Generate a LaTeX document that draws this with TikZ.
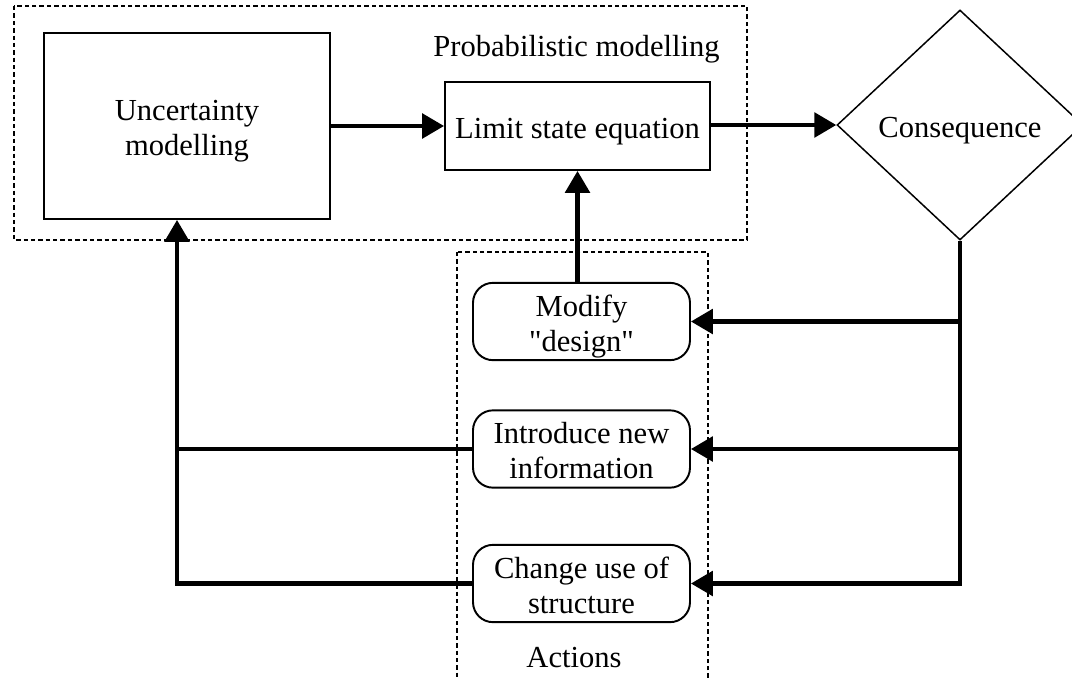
\documentclass[tikz,border=0pt]{standalone}
\usepackage{fontspec}
\setmainfont{Liberation Serif}[Ligatures=TeXOff]
\usepackage{tikz}
\usetikzlibrary{positioning,shapes.geometric,arrows.meta}
\newcommand{\boxtext}[1]{\raisebox{-3pt}[\height][\depth]{\begin{tabular}{@{}c@{}}#1\end{tabular}}}
\tikzstyle{block}=[rectangle, draw=black, line width=1.1pt, text centered, inner sep=2pt,
        font=\fontsize{17.4}{20}\selectfont]
\tikzstyle{action}=[block, rounded corners=0.4cm, minimum width=4.34cm, minimum height=1.5cm]
\tikzstyle{decision}=[diamond, draw=black, line width=0.85pt, inner sep=0pt,
        minimum width=4.92cm, minimum height=4.6cm, font=\fontsize{17.4}{20}\selectfont]
\tikzstyle{label}=[font=\fontsize{17.4}{20}\selectfont]
\tikzstyle{group}=[draw=black, line width=0.6pt, dash pattern=on 2.5pt off 1.7pt]
\tikzstyle{link}=[draw=black, line width=2.3pt]
\tikzstyle{flow}=[link, -{Triangle[length=12.5pt,width=14pt]}]

\begin{document}
\begin{tikzpicture}
        \useasboundingbox (0,0) rectangle (21.44,-13.56);
        % groups
        \draw[group] (0.28,-0.12) rectangle (14.94,-4.8);
        \draw[group] (9.14,-5.04) rectangle (14.16,-13.8);
        \node (probLabel) [label] at (11.53,-0.98) {Probabilistic modelling};
        \node (actLabel) [label] at (11.48,-13.16) {Actions};
        % probabilistic model
        \node (uncertainty) [block, minimum width=5.72cm, minimum height=3.72cm]
          at (3.74,-2.52) {\boxtext{Uncertainty\\modelling}};
        \node (limit) [block, minimum width=5.3cm, minimum height=1.76cm]
          at (11.55,-2.52) {\boxtext{Limit state equation}};
        \node (Consequence) [decision] at (19.2,-2.5) {\boxtext{Consequence}};
        % actions
        \node (modify) [action] at (11.63,-6.43) {\boxtext{Modify\\"design"}};
        \node (introduce) [action] at (11.63,-8.98) {\boxtext{Introduce new\\information}};
        \node (change) [action] at (11.63,-11.67) {\boxtext{Change use of\\structure}};
        \coordinate (back) at (3.54,-8.98);

        \draw[flow] (uncertainty) -- (limit);
        \draw[flow] (limit.east |- Consequence.west) -- (Consequence.west);
        \draw[flow] (modify.north -| limit.south) -- (limit.south);
        \draw[flow] (Consequence.south) |- (change.east);
        \draw[flow] (Consequence.south |- modify.east) -- (modify.east);
        \draw[flow] (Consequence.south |- introduce.east) -- (introduce.east);
        \draw[flow] (change.west) -| (back |- uncertainty.south);
        \draw[link] (introduce.west) -- (back);
\end{tikzpicture}
\end{document}
